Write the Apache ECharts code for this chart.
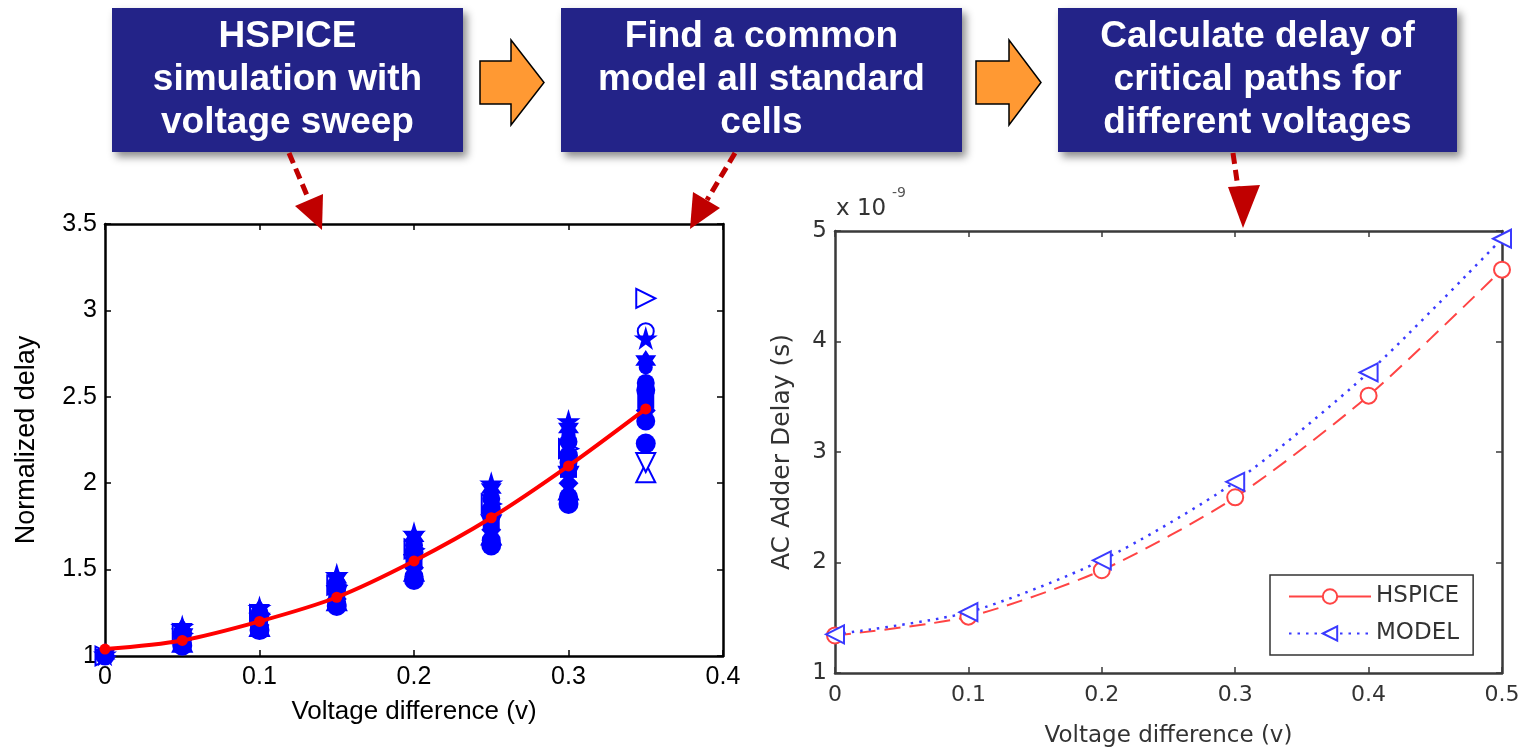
<!DOCTYPE html>
<html>
<head>
<meta charset="utf-8">
<script src="https://cdn.jsdelivr.net/npm/echarts@6/dist/echarts.min.js"></script>
<style>
html,body{margin:0;padding:0;background:#fff;}
#chart{width:1526px;height:747px;}
</style>
</head>
<body>
<div id="chart"></div>
<script>
// ---------- Left chart data (normalized delay of standard cells) ----------
const voltageLeft = [0, 0.05, 0.1, 0.15, 0.2, 0.25, 0.3, 0.35];
const cellCircleA     = [0.98, 1.06, 1.15, 1.29, 1.44, 1.64, 1.88, 2.23];
const cellCircleB     = [0.98, 1.07, 1.16, 1.30, 1.46, 1.67, 1.92, 2.36];
const cellTriUp       = [0.98, 1.08, 1.17, 1.32, 1.49, 1.70, 1.96, 2.06];
const cellDiamond     = [0.99, 1.09, 1.18, 1.33, 1.51, 1.73, 2.00, 2.42];
const cellTriDown     = [0.99, 1.10, 1.19, 1.35, 1.53, 1.76, 2.04, 2.12];
const cellSquare      = [0.99, 1.11, 1.20, 1.36, 1.55, 1.79, 2.08, 2.48];
const cellCircleOpen  = [1.00, 1.12, 1.21, 1.38, 1.58, 1.82, 2.12, 2.88];
const cellCircleC     = [1.00, 1.12, 1.23, 1.39, 1.60, 1.85, 2.16, 2.54];
const cellTriRight    = [1.00, 1.13, 1.24, 1.41, 1.62, 1.88, 2.20, 3.07];
const cellCircleD     = [1.00, 1.14, 1.25, 1.42, 1.64, 1.91, 2.24, 2.58];
const cellDot         = [1.01, 1.15, 1.26, 1.44, 1.67, 1.94, 2.28, 2.67];
const cellHexagram    = [1.01, 1.16, 1.27, 1.45, 1.69, 1.97, 2.32, 2.71];
const cellPentagram   = [1.01, 1.17, 1.28, 1.47, 1.71, 2.00, 2.36, 2.84];
const commonModel     = [1.04, 1.09, 1.20, 1.34, 1.55, 1.80, 2.10, 2.43];

// ---------- Right chart data (AC adder delay, x 1e-9 s) ----------
const voltageRight = [0, 0.1, 0.2, 0.3, 0.4, 0.5];
const hspiceDelay  = [1.34, 1.51, 1.93, 2.59, 3.51, 4.65];
const modelDelay   = [1.35, 1.55, 2.02, 2.73, 3.72, 4.93];

// ---------- Tick labels ----------
const leftYTicks  = ['1', '1.5', '2', '2.5', '3', '3.5'];
const leftXTicks  = ['0', '0.1', '0.2', '0.3', '0.4'];
const rightYTicks = ['1', '2', '3', '4', '5'];
const rightXTicks = ['0', '0.1', '0.2', '0.3', '0.4', '0.5'];

const STAR = 'path://M50,0 L61,35 L98,35 L68,56 L79,90 L50,69 L21,90 L32,56 L2,35 L39,35 Z';
const HEX  = 'path://M50,0 L64,25 L93,25 L78,50 L93,75 L64,75 L50,100 L36,75 L7,75 L22,50 L7,25 L36,25 Z';

// [values, symbol, size, outlined, rotation]
const cells = [
  [cellTriUp, 'emptyTriangle', 19, true, 0],
  [cellTriDown, 'emptyTriangle', 19, true, 180],
  [cellCircleOpen, 'emptyCircle', 16, true, 0],
  [cellTriRight, 'emptyTriangle', 19, true, -90],
  [cellCircleA, 'circle', 20, false, 0],
  [cellCircleB, 'circle', 19, false, 0],
  [cellDiamond, 'diamond', 20, false, 0],
  [cellSquare, 'rect', 17, false, 0],
  [cellCircleC, 'circle', 19, false, 0],
  [cellCircleD, 'circle', 18, false, 0],
  [cellDot, 'circle', 14, false, 0],
  [cellHexagram, HEX, 21, false, 0],
  [cellPentagram, STAR, 24, false, 0]
];

const blue = '#0000ff';
const leftFont = '"Liberation Sans", Arial, Helvetica, sans-serif';
const rightFont = '"DejaVu Sans", sans-serif';

function zip(xs, ys){ return xs.map((x,i)=>[x, ys[i]]); }

const series = [];
cells.forEach(([vals, sym, size, empty, rot]) => {
  series.push({
    type: 'scatter', xAxisIndex: 0, yAxisIndex: 0,
    data: zip(voltageLeft, vals),
    symbol: sym, symbolSize: size, symbolRotate: rot,
    itemStyle: empty ? {color: blue, borderColor: blue, borderWidth: 3.5, opacity: 1} : {color: blue, opacity: 1},
    silent: true, z: empty ? 1 : 2
  });
});
series.push({
  type: 'line', xAxisIndex: 0, yAxisIndex: 0,
  data: zip(voltageLeft, commonModel),
  smooth: 0.3, symbol: 'circle', symbolSize: 11,
  lineStyle: {color: '#ff0000', width: 4},
  itemStyle: {color: '#ff0000'}, z: 5, silent: true
});
series.push({
  name: 'HSPICE', type: 'line', xAxisIndex: 2, yAxisIndex: 2,
  data: zip(voltageRight, hspiceDelay),
  smooth: 0.25, symbol: 'emptyCircle', symbolSize: 16,
  lineStyle: {color: '#ff4444', width: 2, type: [16, 9]},
  itemStyle: {color: '#ff4444', borderWidth: 1.8}, z: 4
});
series.push({
  name: 'MODEL', type: 'line', xAxisIndex: 2, yAxisIndex: 2,
  data: zip(voltageRight, modelDelay),
  smooth: 0.25, symbol: 'emptyTriangle', symbolSize: 18, symbolRotate: 90,
  lineStyle: {color: '#3a3aff', width: 2.5, type: [2.5, 6]},
  itemStyle: {color: '#3a3aff', borderWidth: 1.8}, z: 4
});

function axisCommon(color, lw) {
  return {
    axisLine: {show: true, onZero: false, lineStyle: {color: color, width: lw}},
    axisTick: {show: true, inside: true, length: 6, lineStyle: {color: color, width: 1.5}},
    splitLine: {show: false},
    axisLabel: {show: false}
  };
}

const option = {
  backgroundColor: '#ffffff',
  animation: false,
  grid: [
    {left: 105, top: 224, width: 618, height: 432, containLabel: false, outerBoundsMode: 'none'},
    {left: 835, top: 231, width: 667, height: 442, containLabel: false, outerBoundsMode: 'none'}
  ],
  xAxis: [
    Object.assign(axisCommon('#000', 2.5), {
      gridIndex: 0, type: 'value', min: 0, max: 0.4, interval: 0.1, position: 'bottom',
      axisLabel: {show: true, color: '#000', fontFamily: leftFont, fontSize: 25, margin: 9,
        formatter: v => leftXTicks[Math.round(v * 10)]},
      name: 'Voltage difference (v)', nameLocation: 'middle', nameGap: 43,
      nameTextStyle: {color: '#000', fontFamily: leftFont, fontSize: 26}
    }),
    Object.assign(axisCommon('#000', 2.5), {
      gridIndex: 0, type: 'value', min: 0, max: 0.4, interval: 0.1, position: 'top'
    }),
    Object.assign(axisCommon('#3a3a3a', 2.5), {
      gridIndex: 1, type: 'value', min: 0, max: 0.5, interval: 0.1, position: 'bottom',
      axisLabel: {show: true, color: '#333', fontFamily: rightFont, fontSize: 22, margin: 11,
        formatter: v => rightXTicks[Math.round(v * 10)]},
      name: 'Voltage difference (v)', nameLocation: 'middle', nameGap: 52,
      nameTextStyle: {color: '#333', fontFamily: rightFont, fontSize: 23}
    }),
    Object.assign(axisCommon('#3a3a3a', 2.5), {
      gridIndex: 1, type: 'value', min: 0, max: 0.5, interval: 0.1, position: 'top'
    })
  ],
  yAxis: [
    Object.assign(axisCommon('#000', 2.5), {
      gridIndex: 0, type: 'value', min: 1, max: 3.5, interval: 0.5, position: 'left',
      axisLabel: {show: true, color: '#000', fontFamily: leftFont, fontSize: 25, margin: 8,
        formatter: v => leftYTicks[Math.round((v - 1) * 2)]},
      name: 'Normalized delay', nameLocation: 'middle', nameGap: 65,
      nameTextStyle: {color: '#000', fontFamily: leftFont, fontSize: 27}
    }),
    Object.assign(axisCommon('#000', 2.5), {
      gridIndex: 0, type: 'value', min: 1, max: 3.5, interval: 0.5, position: 'right'
    }),
    Object.assign(axisCommon('#3a3a3a', 2.5), {
      gridIndex: 1, type: 'value', min: 1, max: 5, interval: 1, position: 'left',
      axisLabel: {show: true, color: '#333', fontFamily: rightFont, fontSize: 23, margin: 8,
        formatter: v => rightYTicks[Math.round(v - 1)]},
      name: 'AC Adder Delay (s)', nameLocation: 'middle', nameGap: 40,
      nameTextStyle: {color: '#333', fontFamily: rightFont, fontSize: 25}
    }),
    Object.assign(axisCommon('#3a3a3a', 2.5), {
      gridIndex: 1, type: 'value', min: 1, max: 5, interval: 1, position: 'right'
    })
  ],
  legend: {
    data: [{name: 'HSPICE', lineStyle: {type: 'solid'}}, {name: 'MODEL'}],
    orient: 'vertical', left: 1270, top: 575,
    padding: [10, 14, 10, 18], itemGap: 14, itemWidth: 82, itemHeight: 18,
    borderColor: '#333', borderWidth: 1.5, backgroundColor: '#fff',
    textStyle: {color: '#333', fontFamily: rightFont, fontSize: 23}
  },
  series: series,
  graphic: [
    // process boxes
    {type: 'rect', shape: {x: 112, y: 8, width: 351, height: 144},
      style: {fill: '#232388', shadowBlur: 8, shadowOffsetX: 4, shadowOffsetY: 5, shadowColor: 'rgba(0,0,0,0.45)'}},
    {type: 'rect', shape: {x: 561, y: 8, width: 401, height: 144},
      style: {fill: '#232388', shadowBlur: 8, shadowOffsetX: 4, shadowOffsetY: 5, shadowColor: 'rgba(0,0,0,0.45)'}},
    {type: 'rect', shape: {x: 1058, y: 8, width: 399, height: 144},
      style: {fill: '#232388', shadowBlur: 8, shadowOffsetX: 4, shadowOffsetY: 5, shadowColor: 'rgba(0,0,0,0.45)'}},
    {type: 'text', x: 287.5, y: 80, style: {text: 'HSPICE\nsimulation with\nvoltage sweep', fill: '#fff',
      font: 'bold 37px "Liberation Sans", Arial, sans-serif', textAlign: 'center', textVerticalAlign: 'middle', lineHeight: 43}},
    {type: 'text', x: 761.5, y: 80, style: {text: 'Find a common\nmodel all standard\ncells', fill: '#fff',
      font: 'bold 37px "Liberation Sans", Arial, sans-serif', textAlign: 'center', textVerticalAlign: 'middle', lineHeight: 43}},
    {type: 'text', x: 1257.5, y: 80, style: {text: 'Calculate delay of\ncritical paths for\ndifferent voltages', fill: '#fff',
      font: 'bold 37px "Liberation Sans", Arial, sans-serif', textAlign: 'center', textVerticalAlign: 'middle', lineHeight: 43}},
    // orange block arrows
    {type: 'polygon', shape: {points: [[480,61],[511,61],[511,40],[544,82.5],[511,125],[511,104],[480,104]]},
      style: {fill: '#FF9933', stroke: '#000', lineWidth: 1.5}},
    {type: 'polygon', shape: {points: [[976,61],[1009,61],[1009,40],[1041,82.5],[1009,125],[1009,104],[976,104]]},
      style: {fill: '#FF9933', stroke: '#000', lineWidth: 1.5}},
    // red dashed arrows
    {type: 'line', shape: {x1: 289, y1: 153, x2: 309, y2: 200}, style: {stroke: '#C00000', lineWidth: 5, lineDash: [11, 6]}, z: 10},
    {type: 'polygon', shape: {points: [[322,230],[323,194],[295,206]]}, style: {fill: '#C00000'}, z: 10},
    {type: 'line', shape: {x1: 735, y1: 153, x2: 707, y2: 200}, style: {stroke: '#C00000', lineWidth: 5, lineDash: [11, 6]}, z: 10},
    {type: 'polygon', shape: {points: [[690,229],[720,208],[693,192]]}, style: {fill: '#C00000'}, z: 10},
    {type: 'line', shape: {x1: 1233, y1: 153, x2: 1238, y2: 188}, style: {stroke: '#C00000', lineWidth: 5, lineDash: [11, 6]}, z: 10},
    {type: 'polygon', shape: {points: [[1243,228],[1260,185],[1228,187]]}, style: {fill: '#C00000'}, z: 10},
    // exponent label
    {type: 'text', x: 836, y: 209, style: {text: 'x 10', fill: '#333', font: '23px "DejaVu Sans", sans-serif', textVerticalAlign: 'middle'}},
    {type: 'text', x: 892, y: 193, style: {text: '-9', fill: '#555', font: '14px "DejaVu Sans", sans-serif', textVerticalAlign: 'middle'}}
  ]
};

const chart = echarts.init(document.getElementById('chart'));
chart.setOption(option);
</script>
</body>
</html>
